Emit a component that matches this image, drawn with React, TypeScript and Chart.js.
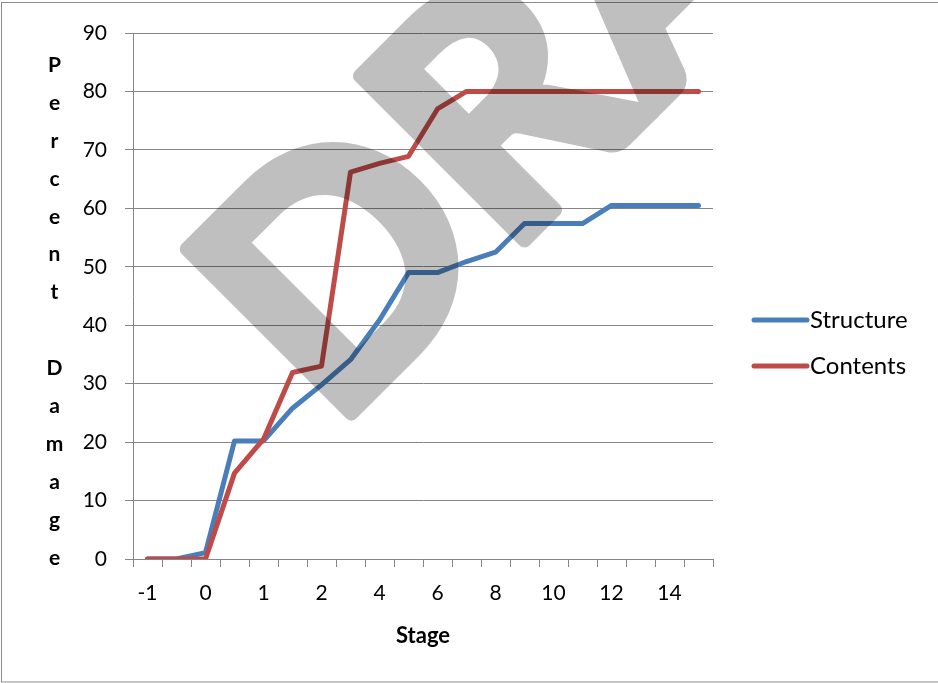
import React, { useEffect, useRef } from "react";
import { Chart, registerables } from "chart.js";

Chart.register(...registerables);

const stages = ["-1", "-0.5", "0", "0.5", "1", "1.5", "2", "3", "4", "5", "6", "7", "8", "9", "10", "11", "12", "13", "14", "15"];
const structure = [0, 0, 1.1, 20.2, 20.2, 25.8, 29.8, 34.1, 40.9, 49.0, 49.0, 50.9, 52.5, 57.4, 57.4, 57.4, 60.5, 60.5, 60.5, 60.5];
const contents = [0, 0, 0, 14.7, 20.5, 31.9, 33.0, 66.2, 67.7, 68.9, 77.0, 80, 80, 80, 80, 80, 80, 80, 80, 80];
const seriesNames = ["Structure", "Contents"];
const seriesColors = ["#4A7EBB", "#BE4B48"];
const yTitle = "Percent Damage";
const xTitle = "Stage";
const watermark = "DRAFT";

const GRID = "#868686";

const extras = {
  id: "extras",
  afterDraw(chart: any) {
    const ctx = chart.ctx;
    const area = chart.chartArea;
    ctx.save();
    // frame
    ctx.strokeStyle = "#8c8c8c";
    ctx.lineWidth = 1;
    ctx.strokeRect(1.5, 2.5, 940, 679.5);
    // y title stacked letters
    ctx.fillStyle = "#000";
    ctx.font = "bold 21px Lato";
    ctx.textAlign = "center";
    ctx.textBaseline = "alphabetic";
    const chars = yTitle.split("");
    chars.forEach((c, i) => {
      if (c !== " ") ctx.fillText(c, 54.5, 71.7 + 37.95 * i);
    });
    // x title
    ctx.font = "bold 22px Lato";
    ctx.fillText(xTitle, (area.left + area.right) / 2, 642.7);
    // legend
    ctx.font = "24px Lato";
    ctx.textAlign = "left";
    ctx.textBaseline = "middle";
    seriesNames.forEach((n, i) => {
      const y = 320 + 46 * i;
      ctx.strokeStyle = seriesColors[i];
      ctx.lineWidth = 5;
      ctx.lineCap = "round";
      ctx.beginPath();
      ctx.moveTo(754, y);
      ctx.lineTo(807, y);
      ctx.stroke();
      ctx.fillStyle = "#000";
      ctx.fillText(n, 810, y);
    });
    ctx.restore();
    // watermark (solid on offscreen canvas, then composited semi-transparent)
    const off = document.createElement("canvas");
    off.width = chart.width;
    off.height = chart.height;
    const o = off.getContext("2d")!;
    o.translate(333, 432);
    o.rotate(-Math.PI / 4);
    o.font = "bold 322px Lato";
    o.textAlign = "left";
    o.textBaseline = "alphabetic";
    o.fillStyle = "#000";
    o.strokeStyle = "#000";
    o.lineWidth = 14;
    o.lineJoin = "round";
    o.fillText(watermark, 0, 0);
    o.strokeText(watermark, 0, 0);
    ctx.save();
    ctx.globalAlpha = 0.25;
    ctx.drawImage(off, 0, 0);
    ctx.restore();
  },
};

export default function App() {
  const ref = useRef<HTMLCanvasElement>(null);
  useEffect(() => {
    const canvas = ref.current!;
    const chart = new Chart(canvas, {
      type: "line",
      data: {
        labels: stages,
        datasets: [
          {
            label: seriesNames[0],
            data: structure,
            borderColor: seriesColors[0],
            backgroundColor: seriesColors[0],
            borderWidth: 5,
            pointRadius: 0,
            tension: 0,
            borderJoinStyle: "round",
            borderCapStyle: "round",
            order: 1,
          },
          {
            label: seriesNames[1],
            data: contents,
            borderColor: seriesColors[1],
            backgroundColor: seriesColors[1],
            borderWidth: 5,
            pointRadius: 0,
            tension: 0,
            borderJoinStyle: "round",
            borderCapStyle: "round",
            order: 0,
          },
        ],
      },
      options: {
        responsive: false,
        animation: false,
        devicePixelRatio: 1,
        layout: { padding: { top: 33, right: 225, left: 0, bottom: 0 } },
        plugins: { legend: { display: false }, tooltip: { enabled: false } },
        scales: {
          x: {
            type: "category",
            offset: true,
            grid: {
              offset: true,
              drawOnChartArea: false,
              drawTicks: true,
              tickLength: 8,
              color: GRID,
              lineWidth: 1,
            },
            border: { color: GRID, width: 1 },
            ticks: {
              autoSkip: false,
              maxRotation: 0,
              minRotation: 0,
              padding: 14,
              color: "#000",
              font: { family: "Lato", size: 21 },
              callback: (_v: any, i: number) => (i % 2 === 0 ? stages[i] : ""),
            },
            afterFit: (s: any) => {
              s.height = 124;
            },
          },
          y: {
            min: 0,
            max: 90,
            grid: { color: GRID, lineWidth: 1, tickLength: 8, drawTicks: true },
            border: { color: GRID, width: 1 },
            ticks: {
              stepSize: 10,
              padding: 18,
              color: "#000",
              font: { family: "Lato", size: 21 },
            },
            afterFit: (s: any) => {
              s.width = 133;
            },
          },
        },
      },
      plugins: [extras],
    } as any);
    return () => chart.destroy();
  }, []);
  return (
    <div style={{ position: "absolute", left: 0, top: 0, width: 938, height: 683, background: "#fff" }}>
      <canvas ref={ref} width={938} height={683} style={{ display: "block" }} />
    </div>
  );
}
